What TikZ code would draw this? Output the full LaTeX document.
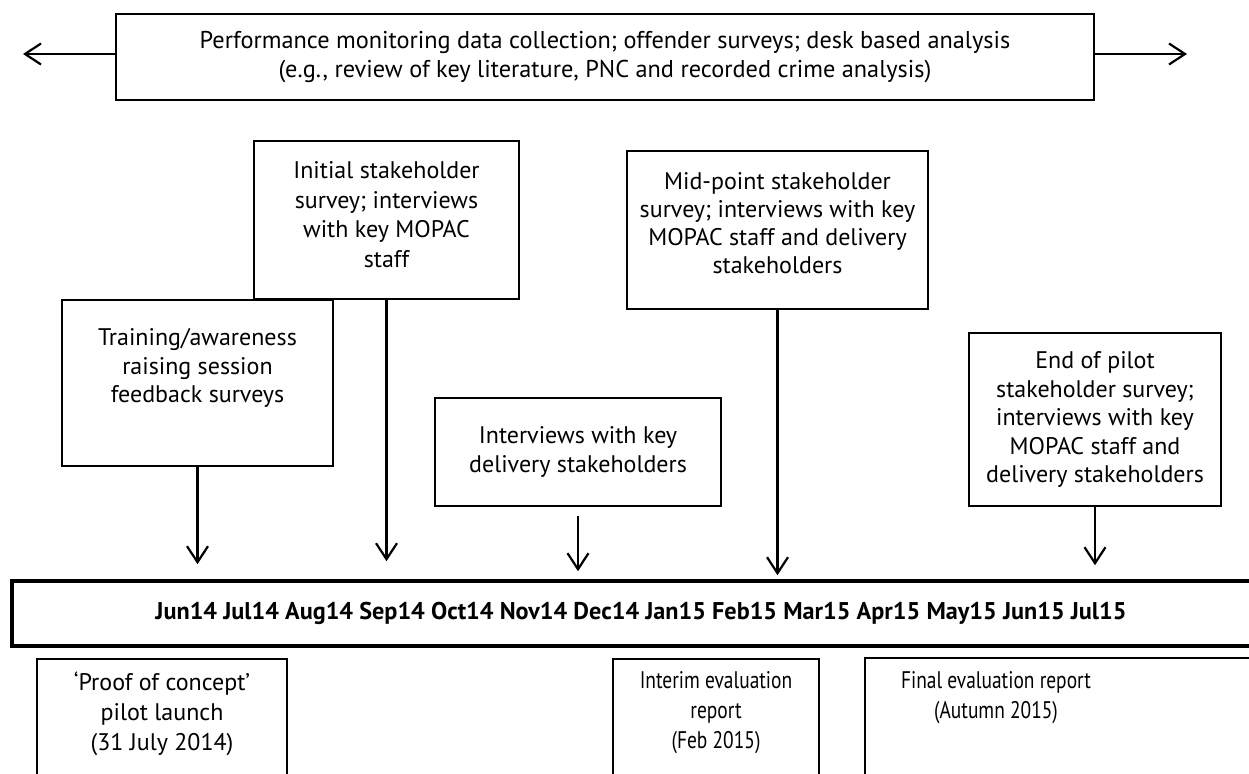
\documentclass[tikz,border=0pt]{standalone}
\usepackage{fontspec}
\setmainfont{PT Sans}
\usetikzlibrary{arrows.meta}
\begin{document}
\begin{tikzpicture}[x=1pt,y=-1pt,
  box/.style={draw, line width=1.8pt, align=center, inner sep=0pt,
    font=\fontsize{24}{28.5}\selectfont},
  txt/.style={align=center, inner sep=0pt, font=\fontsize{24}{30}\selectfont},
  arr/.style={-{Straight Barb[length=16pt,width=21pt,line width=2.2pt]}, line width=2.2pt}]
\useasboundingbox (0,0) rectangle (1249,773);
\clip (0,0) rectangle (1249,773);
% top box
\node[box, minimum width=978pt, minimum height=86pt,
  font=\fontsize{24.3}{28.5}\selectfont] (top) at (605,57)
  {Performance monitoring data collection; offender surveys; desk based analysis\\
   (e.g., review of key literature, PNC and recorded crime analysis)};
\coordinate (lt) at (23,54);
\coordinate (rt) at (1187,54);
\draw[arr] (top.west |- lt) -- (lt);
\draw[arr] (top.east |- rt) -- (rt);
% upper boxes
\node[box, minimum width=265pt, minimum height=158pt,
  font=\fontsize{24}{29.5}\selectfont] (init) at (386.5,220)
  {Initial stakeholder\\survey; interviews\\with key MOPAC\\staff\\[-19pt]};
\node[box, minimum width=271pt, minimum height=166pt] (train) at (197.5,383)
  {Training/awareness\\raising session\\feedback surveys\\[6pt]};
\node[box, minimum width=286pt, minimum height=108pt] (intv) at (578,452)
  {Interviews with key\\delivery stakeholders};
\node[box, minimum width=301pt, minimum height=158pt,
  font=\fontsize{24}{28}\selectfont] (mid) at (777.5,230)
  {Mid-point stakeholder\\survey; interviews with key\\MOPAC staff and delivery\\stakeholders\\[-15pt]};
\node[box, minimum width=252pt, minimum height=173pt] (end) at (1095,419.5)
  {End of pilot\\stakeholder survey;\\interviews with key\\MOPAC staff and\\delivery stakeholders};
% timeline
\node[draw, line width=3.6pt, minimum width=1258pt, minimum height=65pt, inner sep=0pt,
  font=\bfseries\fontsize{24.2}{28}\selectfont] (tl) at (641,613.5)
  {Jun14 Jul14 Aug14 Sep14 Oct14 Nov14 Dec14 Jan15 Feb15 Mar15 Apr15 May15 Jun15 Jul15};
% arrows to timeline
\draw[arr, shorten >=15pt] (train.south) -- (train.south |- tl.north);
\draw[arr, shorten >=18pt] (init.south) -- (init.south |- tl.north);
\draw[arr, shorten <=9pt, shorten >=8pt] (intv.south) -- (intv.south |- tl.north);
\draw[arr, shorten >=4pt] (mid.south) -- (mid.south |- tl.north);
\draw[arr, shorten >=14pt] (end.south) -- (end.south |- tl.north);
% bottom boxes
\node[box, anchor=north, minimum width=250pt, inner ysep=13pt, text depth=140pt,
  font=\fontsize{24}{30}\selectfont] (proof) at (162,658)
  {`Proof of concept'\\pilot launch\\(31 July 2014)};
\node[box, anchor=north, xscale=0.81, transform shape, minimum width=254pt,
  inner ysep=13pt, text depth=140pt, font=\fontsize{24}{30}\selectfont] (interim) at (716,658)
  {Interim evaluation\\report\\(Feb 2015)};
\node[txt, anchor=north, xscale=0.81, transform shape, inner ysep=13pt] (final) at (996,658)
  {Final evaluation report\\(Autumn 2015)};
\draw[line width=1.8pt] (865,800) |- (1270,658);
\end{tikzpicture}
\end{document}
